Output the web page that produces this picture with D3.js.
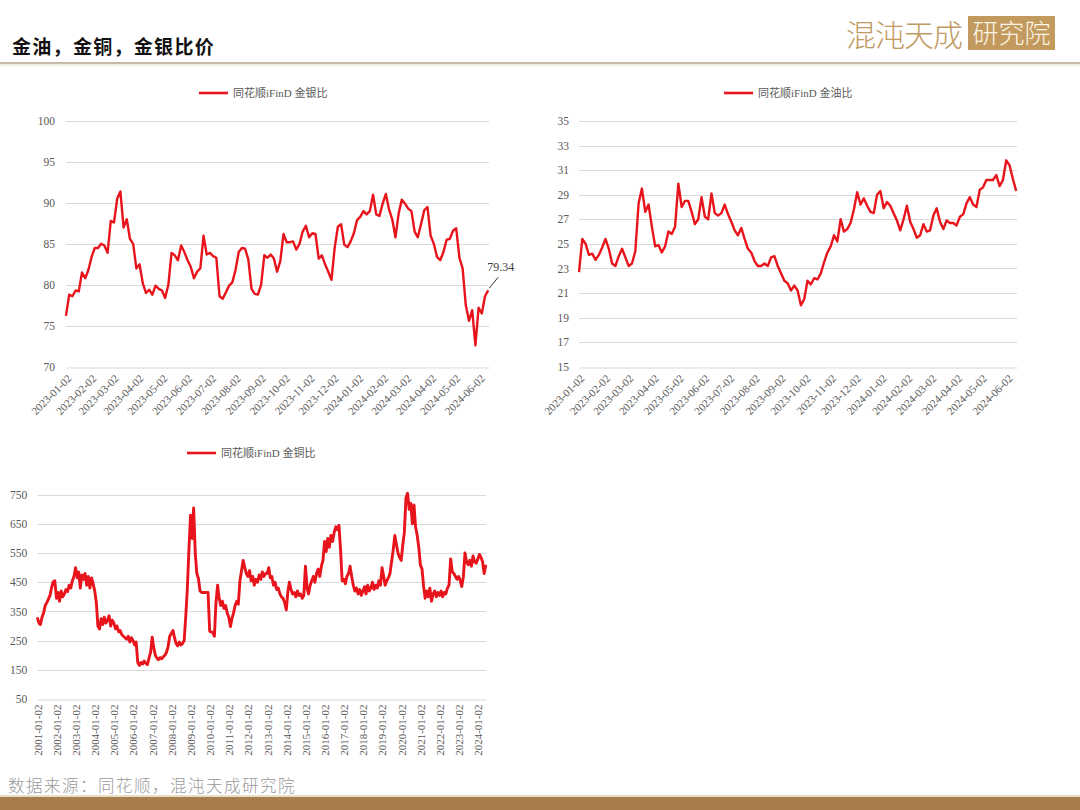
<!DOCTYPE html>
<html><head><meta charset="utf-8">
<script src="https://cdn.jsdelivr.net/npm/d3@7"></script>
<style>
body{margin:0;background:#fff;}
svg{display:block;}
</style></head><body>
<svg id="c" width="1080" height="810"></svg>
<script>
// ---------- text ----------
const titleText = "金油，金铜，金银比价";
const sourceText = "数据来源：同花顺，混沌天成研究院";
const logoMain = "混沌天成";
const logoBox = "研究院";

// ---------- 金银比 (one reading every 4 calendar days from start) ----------
const silverLegend = "同花顺iFinD 金银比";
const silverStart = "2023-01-02";
const silverStepDays = 4;
const silverValues = [
 76.2,78.8,78.6,79.3,79.2,81.5,80.8,81.8,83.4,84.5,
 84.5,85.0,84.8,83.9,87.8,87.6,90.5,91.4,87.0,88.0,
 85.6,85.0,82.0,82.5,80.2,79.0,79.4,78.8,79.9,79.5,
 79.3,78.4,80.0,83.9,83.6,83.0,84.8,84.0,83.0,82.2,
 80.8,81.6,82.0,86.0,83.7,83.9,83.5,83.3,78.6,78.3,
 79.1,79.9,80.3,81.8,84.0,84.5,84.4,83.1,79.5,78.9,
 78.8,80.0,83.6,83.3,83.7,83.2,81.6,82.9,86.2,85.2,
 85.2,85.3,84.3,85.0,86.5,87.2,85.8,86.3,86.2,83.2,
 83.6,82.5,81.6,80.6,84.5,87.1,87.4,84.9,84.6,85.3,
 86.3,87.9,88.3,89.0,88.6,89.0,91.0,88.6,88.4,89.9,
 91.1,89.2,88.0,85.8,88.7,90.4,89.9,89.3,89.0,86.5,
 85.8,87.4,89.1,89.5,86.0,85.0,83.4,83.0,84.0,85.5,
 85.6,86.6,86.9,83.3,82.0,77.5,75.6,76.9,72.6,77.2,
 76.5,78.6,79.34
];
const silverLastLabel = "79.34";
const silverYTicks = [70,75,80,85,90,95,100];
const silverXTicks = ["2023-01-02","2023-02-02","2023-03-02","2023-04-02","2023-05-02","2023-06-02",
 "2023-07-02","2023-08-02","2023-09-02","2023-10-02","2023-11-02","2023-12-02","2024-01-02",
 "2024-02-02","2024-03-02","2024-04-02","2024-05-02","2024-06-02"];

// ---------- 金油比 (every 4 calendar days) ----------
const oilLegend = "同花顺iFinD 金油比";
const oilStart = "2023-01-02";
const oilStepDays = 4;
const oilValues = [
 22.7,25.4,25.0,24.1,24.2,23.7,24.1,24.7,25.4,24.6,
 23.4,23.2,24.0,24.6,23.9,23.2,23.4,24.4,28.3,29.5,
 27.6,28.2,26.4,24.8,24.9,24.3,24.8,26.0,25.8,26.4,
 29.9,28.0,28.5,28.5,27.6,26.6,27.0,28.8,27.2,27.0,
 29.1,27.5,27.3,27.5,28.2,27.4,26.8,26.1,25.7,26.3,
 25.4,24.6,24.3,23.6,23.2,23.2,23.4,23.2,23.9,24.0,
 23.2,22.6,22.0,21.8,21.2,21.6,21.2,20.0,20.5,22.0,
 21.7,22.2,22.1,22.6,23.5,24.3,24.8,25.7,25.2,27.0,
 26.0,26.2,26.7,27.8,29.2,28.2,28.7,28.1,27.6,27.5,
 29.0,29.3,27.9,28.4,28.1,27.5,26.9,26.1,27.0,28.1,
 26.8,26.2,25.5,25.7,26.6,26.0,26.1,27.3,27.9,26.8,
 26.2,26.9,26.7,26.7,26.5,27.2,27.4,28.3,28.8,28.2,
 28.0,29.4,29.6,30.2,30.2,30.2,30.6,29.7,30.2,31.8,
 31.4,30.3,29.3
];
const oilYTicks = [15,17,19,21,23,25,27,29,31,33,35];
const oilXTicks = silverXTicks.slice();

// ---------- 金铜比 (monthly from 2001-01) ----------
const copperLegend = "同花顺iFinD 金铜比";
const copperStart = "2001-01-02";
const copperValues = [
 330,310,305,330,345,370,380,392,405,432,452,455, // 2001
 395,415,385,420,400,410,425,418,440,430,455,470, // 2002
 500,465,485,430,475,460,480,440,470,430,465,445, // 2003
 420,380,300,290,325,305,330,310,320,335,300,320, // 2004
 310,290,300,280,285,270,265,260,255,265,245,260, // 2005
 250,235,245,175,165,175,170,180,172,168,190,210, // 2006
 262,225,200,190,185,192,188,195,200,210,230,265, // 2007
 275,285,260,240,232,245,235,240,250,330,430,560, // 2008
 680,600,705,550,480,462,420,415,415,415,415,415, // 2009
 282,280,278,265,380,440,395,370,385,360,370,345, // 2010
 330,298,325,345,370,385,375,455,490,525,500,480, // 2011
 470,490,455,470,440,460,450,475,460,485,470,480, // 2012
 480,500,465,470,440,450,425,430,410,400,395,380, // 2013
 355,420,450,425,410,415,400,420,405,410,395,405, // 2014
 505,430,410,440,455,470,450,480,495,470,505,525, // 2015
 590,555,600,570,610,590,620,640,630,645,560,455, // 2016
 460,445,470,480,505,470,440,420,430,410,425,405, // 2017
 420,435,410,440,420,430,450,425,440,430,455,440, // 2018
 500,470,440,455,465,480,520,560,610,580,550,535, // 2019
 525,580,620,740,755,700,720,650,715,640,610,570, // 2020
 510,495,440,395,420,400,430,385,410,420,400,415, // 2021
 405,420,400,415,410,430,440,530,485,480,470,460, // 2022
 470,455,435,470,550,520,510,525,505,540,520,515, // 2023
 530,545,535,520,480,510                          // 2024
];
const copperYTicks = [50,150,250,350,450,550,650,750];
const copperXTicks = ["2001-01-02","2002-01-02","2003-01-02","2004-01-02","2005-01-02","2006-01-02",
 "2007-01-02","2008-01-02","2009-01-02","2010-01-02","2011-01-02","2012-01-02","2013-01-02",
 "2014-01-02","2015-01-02","2016-01-02","2017-01-02","2018-01-02","2019-01-02","2020-01-02",
 "2021-01-02","2022-01-02","2023-01-02","2024-01-02"];

// ---------- drawing ----------
const RED = "#e8141c";
const GRID = "#d9d9d9";
const LABEL = "#595959";
const serif = '"Liberation Serif","Times New Roman","Noto Sans CJK SC",serif';
const cjk = '"Noto Sans CJK SC","Noto Sans",sans-serif';
const parse = d3.timeParse("%Y-%m-%d");
const fmt = d3.timeFormat("%Y-%m-%d");
const svg = d3.select("#c");

svg.append("rect").attr("width",1080).attr("height",810).attr("fill","#ffffff");

// header
svg.append("text").attr("x",12).attr("y",54).text(titleText)
  .attr("font-family",cjk).attr("font-weight",700).attr("font-size",19)
  .attr("letter-spacing",1.3).attr("fill","#111");
svg.append("line").attr("x1",0).attr("x2",1080).attr("y1",63).attr("y2",63)
  .attr("stroke","#b3a48c").attr("stroke-width",1.6);
svg.append("line").attr("x1",0).attr("x2",1080).attr("y1",65).attr("y2",65)
  .attr("stroke","#e6dccb").attr("stroke-width",1);
svg.append("text").attr("x",846).attr("y",46).text(logoMain)
  .attr("font-family",cjk).attr("font-weight",300).attr("font-size",30)
  .attr("letter-spacing",-1).attr("fill","#bf9a62");
svg.append("rect").attr("x",968).attr("y",16).attr("width",87).attr("height",34).attr("fill","#c39a5e");
svg.append("text").attr("x",1011.5).attr("y",43).attr("text-anchor","middle").text(logoBox)
  .attr("font-family",cjk).attr("font-weight",300).attr("font-size",26)
  .attr("fill","#fbf3e4");

// footer
svg.append("text").attr("x",8).attr("y",792).text(sourceText)
  .attr("font-family",cjk).attr("font-weight",300).attr("font-size",16.5)
  .attr("letter-spacing",1.5).attr("fill","#9a9a9a");
svg.append("rect").attr("x",0).attr("y",795).attr("width",1080).attr("height",2).attr("fill","#e9dcc4");
svg.append("rect").attr("x",0).attr("y",797).attr("width",1080).attr("height",13).attr("fill","#a77d4c");

function drawChart(o){
  const g = svg.append("g");
  const x = d3.scaleTime().domain(o.xDomain).range([o.left, o.right]);
  const y = d3.scaleLinear().domain(o.yDomain).range([o.bottom, o.top]);
  g.append("g").selectAll("line").data(o.yTicks.filter(t=>t!==o.yDomain[0])).join("line")
    .attr("x1",o.left).attr("x2",o.right)
    .attr("y1",d=>Math.round(y(d))+0.5).attr("y2",d=>Math.round(y(d))+0.5)
    .attr("stroke",GRID).attr("stroke-width",1);
  const yg = g.append("g").attr("transform",`translate(${o.left},0)`)
    .call(d3.axisLeft(y).tickValues(o.yTicks).tickSize(0).tickPadding(o.yPad));
  yg.select(".domain").remove();
  yg.selectAll("text").attr("font-family",serif).attr("font-size",11.5).attr("fill",LABEL);
  const xg = g.append("g").attr("transform",`translate(0,${Math.round(o.bottom)+0.5})`)
    .call(d3.axisBottom(x).tickValues(o.xTicks.map(parse)).tickSize(0).tickFormat(fmt));
  xg.select(".domain").attr("stroke",GRID).attr("stroke-width",1.2);
  xg.selectAll("text").attr("font-family",serif).attr("font-size",11).attr("fill",LABEL)
    .attr("x",0).attr("y",0).attr("dy","0.35em").attr("text-anchor","end")
    .attr("transform",o.labelTransform);
  const line = d3.line().x(d=>x(d.date)).y(d=>y(d.v)).curve(d3.curveLinear);
  g.append("path").datum(o.data).attr("d",line).attr("fill","none")
    .attr("stroke",RED).attr("stroke-width",o.stroke).attr("stroke-linejoin","round");
  // legend
  g.append("line").attr("x1",o.legX).attr("x2",o.legX+29).attr("y1",o.legY).attr("y2",o.legY)
    .attr("stroke",RED).attr("stroke-width",2.6);
  g.append("text").attr("x",o.legX+34).attr("y",o.legY).attr("dy","0.35em").text(o.legend)
    .attr("font-family",serif).attr("font-size",11).attr("fill",LABEL);
  return {x,y,g};
}

function stepSeries(start, stepDays, vals){
  const s = parse(start);
  return vals.map((v,i)=>({date:d3.timeDay.offset(s, i*stepDays), v}));
}

const silverData = stepSeries(silverStart, silverStepDays, silverValues);
const c1 = drawChart({
  data:silverData, xDomain:[parse(silverStart), d3.timeDay.offset(silverData[silverData.length-1].date,1)],
  yDomain:[70,100], yTicks:silverYTicks, xTicks:silverXTicks,
  left:66, right:489, top:121, bottom:366.7, yPad:11, stroke:2.4,
  labelTransform:"translate(3,9) rotate(-45)",
  legend:silverLegend, legX:199, legY:93
});
{
  const last = silverData[silverData.length-1];
  const px = c1.x(last.date), py = c1.y(last.v);
  c1.g.append("line").attr("x1",px+1).attr("y1",py-2).attr("x2",px+10).attr("y2",py-13)
    .attr("stroke","#333").attr("stroke-width",1);
  c1.g.append("text").attr("x",px-1).attr("y",py-19).text(silverLastLabel)
    .attr("font-family",serif).attr("font-size",12).attr("fill","#404040");
}

const oilData = stepSeries(oilStart, oilStepDays, oilValues);
drawChart({
  data:oilData, xDomain:[parse(oilStart), d3.timeDay.offset(oilData[oilData.length-1].date,1)],
  yDomain:[15,35], yTicks:oilYTicks, xTicks:oilXTicks,
  left:579, right:1017, top:121, bottom:366.7, yPad:10, stroke:2.4,
  labelTransform:"translate(3,9) rotate(-45)",
  legend:oilLegend, legX:724, legY:93
});

const copperData = copperValues.map((v,i)=>({date:d3.timeMonth.offset(parse(copperStart), i), v}));
drawChart({
  data:copperData, xDomain:[parse(copperStart), d3.timeDay.offset(copperData[copperData.length-1].date,4)],
  yDomain:[50,750], yTicks:copperYTicks, xTicks:copperXTicks,
  left:37.3, right:486, top:494.7, bottom:699, yPad:10, stroke:2.9,
  labelTransform:"translate(0,5) rotate(-90)",
  legend:copperLegend, legX:187, legY:453
});
</script>
</body></html>
